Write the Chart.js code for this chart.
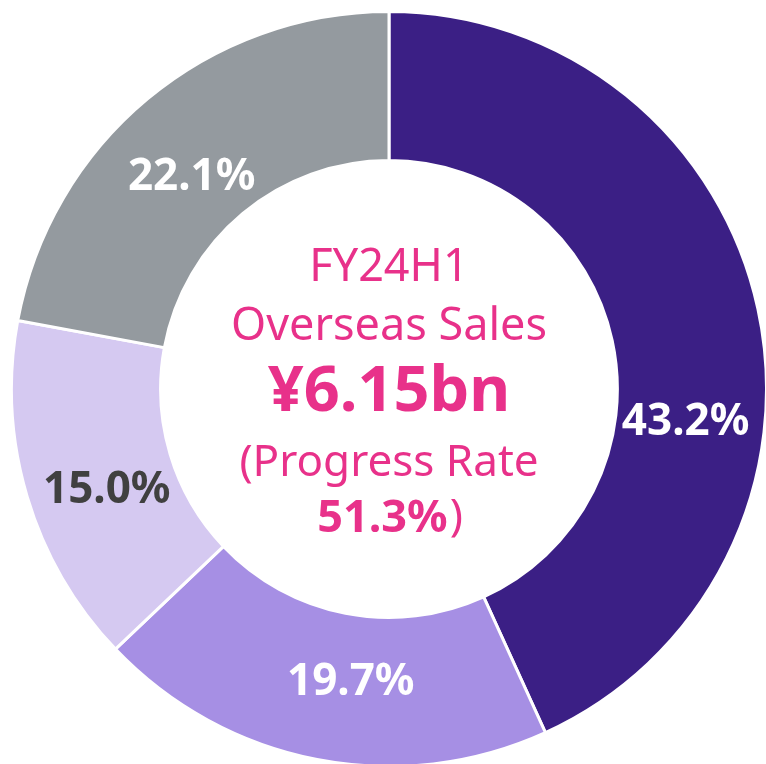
<!DOCTYPE html>
<html lang="en">
<head>
<meta charset="UTF-8">
<title>Overseas Sales</title>
<script src="https://cdn.jsdelivr.net/npm/chart.js@4.4.0/dist/chart.umd.min.js"></script>
<style>
  html, body { margin: 0; padding: 0; background: #fff; }
  #wrap { position: absolute; left: 10px; top: 10px; width: 758px; height: 758px; }
</style>
</head>
<body>
<div id="wrap"><canvas id="salesChart"></canvas></div>
<script>
// data
const regions = ["Region A", "Region B", "Region C", "Region D"];
const shares = [43.2, 19.7, 15.0, 22.1];
const sliceColors = ["#3b1f85", "#a68fe4", "#d5c9f1", "#949a9f"];
const labelColors = ["#ffffff", "#ffffff", "#404040", "#ffffff"];
// where each percentage sits: along the slice (0..1) and across the ring (0 = inner, 1 = outer)
const labelAlong = [0.62, 0.45, 0.44, 0.46];
const labelAcross = [0.47, 0.45, 0.48, 0.41];
const centerLines = ["FY24H1", "Overseas Sales", "¥6.15bn", "(Progress Rate", "51.3%"];

const PINK = "#e8318a";
const FONT = "'Noto Sans', 'Open Sans', sans-serif";

// percentage labels on the ring
const sliceLabels = {
  id: "sliceLabels",
  afterDatasetsDraw(chart) {
    const ctx = chart.ctx;
    const meta = chart.getDatasetMeta(0);
    ctx.save();
    ctx.font = "bold 44px " + FONT;
    ctx.textAlign = "center";
    ctx.textBaseline = "middle";
    meta.data.forEach((arc, i) => {
      const p = arc.getProps(["x", "y", "startAngle", "endAngle", "innerRadius", "outerRadius"], true);
      const a = p.startAngle + (p.endAngle - p.startAngle) * labelAlong[i];
      const r = p.innerRadius + (p.outerRadius - p.innerRadius) * labelAcross[i];
      ctx.fillStyle = labelColors[i];
      ctx.fillText(shares[i].toFixed(1) + "%", p.x + Math.cos(a) * r, p.y + Math.sin(a) * r);
    });
    ctx.restore();
  }
};

// text in the hole
const centerText = {
  id: "centerText",
  afterDraw(chart) {
    const ctx = chart.ctx;
    const arc = chart.getDatasetMeta(0).data[0];
    const cx = arc.x, cy = arc.y;
    ctx.save();
    ctx.fillStyle = PINK;
    ctx.textAlign = "center";
    ctx.textBaseline = "middle";
    ctx.font = "45px " + FONT;
    ctx.fillText(centerLines[0], cx, cy - 121);
    ctx.fillText(centerLines[1], cx, cy - 62);
    ctx.font = "bold 63px " + FONT;
    ctx.fillText(centerLines[2], cx, cy + 4);
    ctx.font = "44px " + FONT;
    ctx.fillText(centerLines[3], cx, cy + 74);
    // last line: bold value + regular bracket
    ctx.font = "bold 45px " + FONT;
    const w1 = ctx.measureText(centerLines[4]).width;
    ctx.font = "44px " + FONT;
    const w2 = ctx.measureText(")").width;
    const x0 = cx - (w1 + w2) / 2;
    ctx.textAlign = "left";
    ctx.font = "bold 45px " + FONT;
    ctx.fillText(centerLines[4], x0, cy + 130);
    ctx.font = "44px " + FONT;
    ctx.fillText(")", x0 + w1 + 2, cy + 128);
    ctx.restore();
  }
};

new Chart(document.getElementById("salesChart"), {
  type: "doughnut",
  data: {
    labels: regions,
    datasets: [{
      data: shares,
      backgroundColor: sliceColors,
      borderColor: "#ffffff",
      borderWidth: 3
    }]
  },
  options: {
    responsive: true,
    maintainAspectRatio: false,
    animation: false,
    cutout: "60.5%",
    layout: { padding: 0 },
    plugins: {
      legend: { display: false },
      tooltip: { enabled: false }
    }
  },
  plugins: [sliceLabels, centerText]
});
</script>
</body>
</html>
